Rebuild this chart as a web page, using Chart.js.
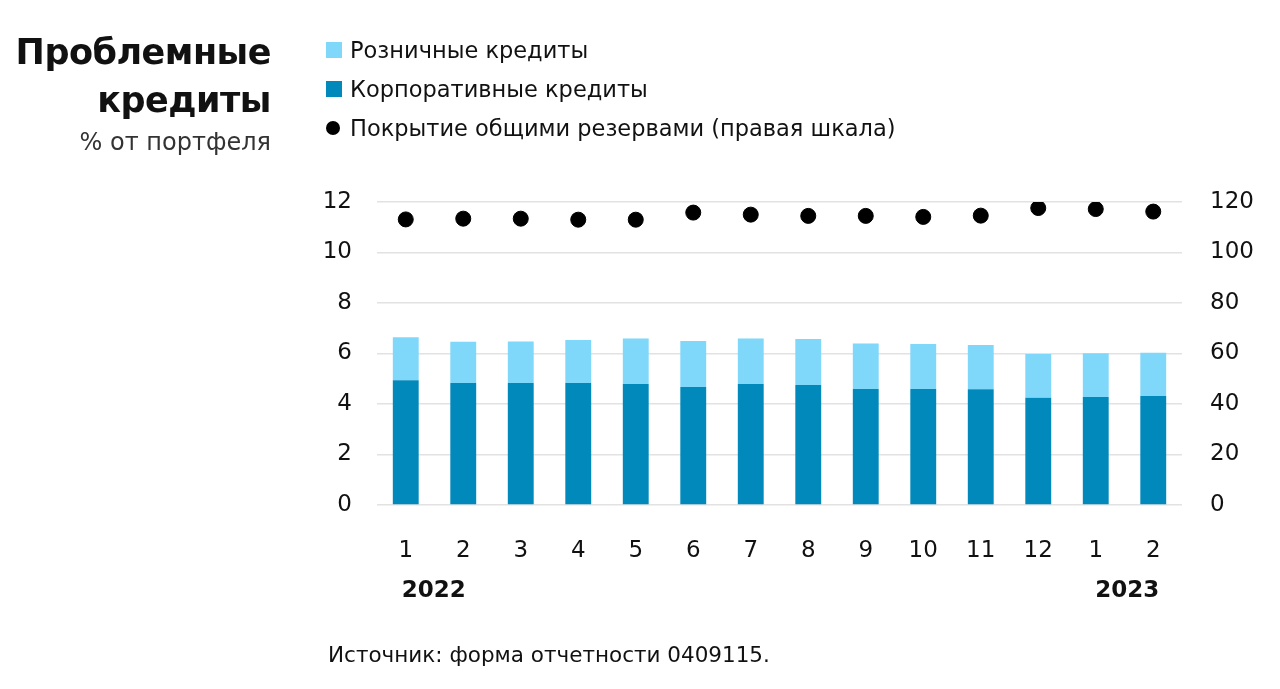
<!DOCTYPE html>
<html lang="ru">
<head>
<meta charset="utf-8">
<script src="https://cdn.jsdelivr.net/npm/chart.js@4.4.1/dist/chart.umd.min.js"></script>
<style>
  html, body { margin: 0; padding: 0; background: #fff; }
  body { width: 1280px; height: 689px; position: relative; overflow: hidden; font-family: "DejaVu Sans", sans-serif; color: #111; }
  #chartBox { position: absolute; left: 0; top: 0; width: 1280px; height: 689px; }
  .title { position: absolute; left: 0; width: 271px; text-align: right; }
  .t1 { top: 28px; font-size: 35px; font-weight: 700; line-height: 48px; letter-spacing: -0.5px; }
  .t2 { top: 126px; font-size: 24px; color: #333; line-height: 32px; }
  .legend { position: absolute; left: 326px; top: 30px; font-size: 22.5px; }
  .legend div { height: 39px; line-height: 34px; display: flex; align-items: center; }
  .sw { width: 16px; height: 16px; margin-right: 8px; display: inline-block; }
  .dot { width: 14px; height: 14px; border-radius: 50%; background: #000; margin-right: 10px; display: inline-block; }
  .source { position: absolute; left: 328px; top: 642px; font-size: 21.5px; }
</style>
</head>
<body>
<div id="chartBox"><canvas id="npl"></canvas></div>
<div class="title t1">Проблемные<br>кредиты</div>
<div class="title t2">% от портфеля</div>
<div class="legend">
  <div><span class="sw" style="background:#7fd8fa"></span>Розничные кредиты</div>
  <div><span class="sw" style="background:#0189bb"></span>Корпоративные кредиты</div>
  <div><span class="dot"></span>Покрытие общими резервами (правая шкала)</div>
</div>
<div class="source">Источник: форма отчетности 0409115.</div>
<script>
// data
const months = ['1', '2', '3', '4', '5', '6', '7', '8', '9', '10', '11', '12', '1', '2'];
const corporate = [4.94, 4.83, 4.83, 4.83, 4.79, 4.67, 4.79, 4.75, 4.59, 4.59, 4.58, 4.25, 4.28, 4.32];
const retail = [1.70, 1.64, 1.65, 1.70, 1.80, 1.83, 1.80, 1.82, 1.81, 1.79, 1.76, 1.73, 1.73, 1.71];
const coverage = [113.1, 113.4, 113.4, 113.0, 113.0, 115.8, 115.0, 114.5, 114.5, 114.1, 114.6, 117.6, 117.2, 116.2];
const years = ['2022', '2023'];

Chart.defaults.font.family = '"DejaVu Sans", sans-serif';
Chart.defaults.color = '#111';

// year captions under the first and the last month
const yearLabels = {
    id: 'yearLabels',
    afterDraw(chart) {
        const ctx = chart.ctx;
        const x = chart.scales.x;
        ctx.save();
        ctx.font = 'bold 23px "DejaVu Sans", sans-serif';
        ctx.fillStyle = '#111';
        ctx.textBaseline = 'middle';
        ctx.textAlign = 'left';
        ctx.fillText(years[0], x.getPixelForValue(0) - 4, 591);
        ctx.textAlign = 'right';
        ctx.fillText(years[1], x.getPixelForValue(months.length - 1) + 6, 591);
        ctx.restore();
    }
};

const ctx = document.getElementById('npl').getContext('2d');
const nplChart = new Chart(ctx, {
    type: 'bar',
    data: {
        labels: months,
        datasets: [
            {
                type: 'scatter',
                label: 'Покрытие общими резервами (правая шкала)',
                data: coverage.map((v, i) => ({ x: i, y: v })),
                yAxisID: 'y2',
                backgroundColor: '#000',
                borderColor: '#000',
                pointRadius: 7.5,
                pointHoverRadius: 7.5,
                order: 0
            },
            {
                label: 'Корпоративные кредиты',
                data: corporate,
                backgroundColor: '#0189bb',
                stack: 'npl',
                barPercentage: 0.45,
                categoryPercentage: 1,
                order: 1
            },
            {
                label: 'Розничные кредиты',
                data: retail,
                backgroundColor: '#7fd8fa',
                stack: 'npl',
                barPercentage: 0.45,
                categoryPercentage: 1,
                order: 2
            }
        ]
    },
    options: {
        responsive: true,
        maintainAspectRatio: false,
        animation: false,
        layout: { padding: { top: 202, left: 0, right: 0, bottom: 0 } },
        plugins: {
            legend: { display: false },
            tooltip: { enabled: false }
        },
        scales: {
            x: {
                type: 'category',
                stacked: true,
                offset: true,
                grid: { display: false, drawTicks: false },
                border: { display: false },
                ticks: { font: { size: 23 }, padding: 32, maxRotation: 0 },
                afterFit: s => { s.height = 184; }
            },
            y: {
                stacked: true,
                min: 0,
                max: 12,
                position: 'left',
                grid: { color: '#e2e2e2', lineWidth: 1.5, drawTicks: false },
                border: { display: false },
                ticks: { stepSize: 2, font: { size: 23 }, padding: 25 },
                afterFit: s => { s.width = 377; }
            },
            y2: {
                min: 0,
                max: 120,
                position: 'right',
                grid: { display: false, drawTicks: false },
                border: { display: false },
                ticks: { stepSize: 20, font: { size: 23 }, padding: 28 },
                afterFit: s => { s.width = 98; }
            }
        }
    },
    plugins: [yearLabels]
});
</script>
</body>
</html>
